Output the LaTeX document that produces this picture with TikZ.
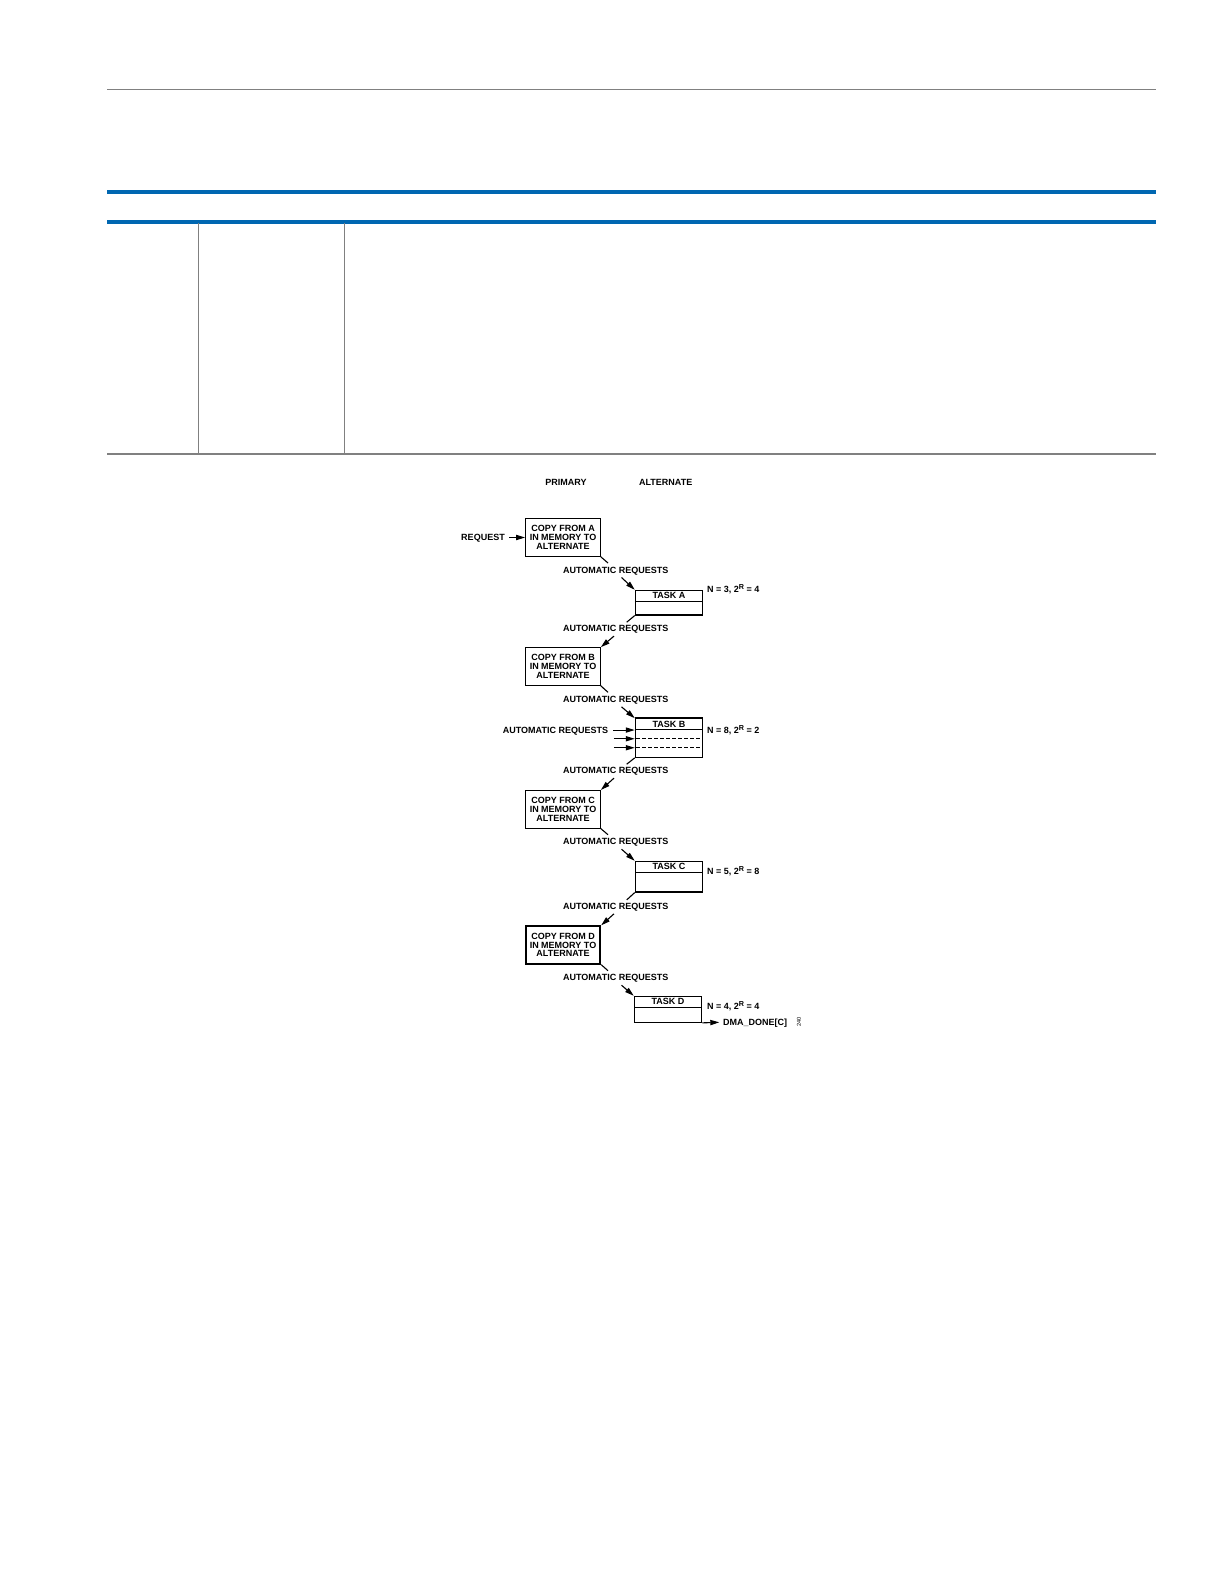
\documentclass[tikz,border=0pt]{standalone}
\usepackage{fontspec}
\setmainfont{Liberation Sans}
\usetikzlibrary{arrows.meta,calc,positioning}
\definecolor{rulegray}{RGB}{128,128,128}
\definecolor{adiblue}{RGB}{0,103,177}
\newcommand{\dfont}{\fontsize{4.5}{4.4}\selectfont\bfseries}
\newcommand{\supR}{\raisebox{1.5pt}{\fontsize{3.6}{3.6}\selectfont R}}

\begin{document}
\begin{tikzpicture}[x=0.5pt,y=-0.5pt,
  every node/.append style={inner sep=0pt},
  lbl/.style={font=\dfont, text height=3.2pt, text depth=0pt},
  copybox/.style={draw, line width=0.55pt, minimum width=37.3pt, minimum height=18.8pt, align=center, font=\dfont},
  taskbox/.style={draw, line width=0.55pt, minimum width=33.7pt},
  taskhead/.style={draw, line width=0.55pt, minimum width=33.7pt, minimum height=5.4pt, anchor=north, font=\dfont, text height=3.2pt, text depth=0pt},
  tip/.style={-{Triangle[length=4.5pt,width=2.6pt]}, line width=0.55pt},
  stub/.style={line width=0.55pt},
  slotline/.style={line width=0.55pt, dash pattern=on 2pt off 1pt}]
\useasboundingbox (0,0) rectangle (1224,1584);
% page rules
\draw [rulegray, line width=0.6pt] (107.3,89.3) -- (1156,89.3);
\draw [adiblue, line width=2pt] (107.3,192) -- (1156,192);
\draw [adiblue, line width=2pt] (107.3,222) -- (1156,222);
\draw [rulegray, line width=0.5pt] (198.3,223) -- (198.3,454);
\draw [rulegray, line width=0.5pt] (344.3,223) -- (344.3,454);
\draw [rulegray, line width=0.6pt] (107.3,454) -- (1156,454);
% column heads
\node [lbl] (prim) at (566,482) {PRIMARY};
\node [lbl] (alt) at (665.7,482) {ALTERNATE};
% primary side
\node [copybox] (boxA) at (563,537.5) {COPY FROM A\\IN MEMORY TO\\ALTERNATE};
\node [copybox] (boxB) at (563,666.5) {COPY FROM B\\IN MEMORY TO\\ALTERNATE};
\node [copybox] (boxC) at (563,809.3) {COPY FROM C\\IN MEMORY TO\\ALTERNATE};
\node [copybox, line width=0.9pt] (boxD) at (563,945) {COPY FROM D\\IN MEMORY TO\\ALTERNATE};
% alternate side
\node [taskbox, minimum height=12.35pt] (taskA) at (669,602.65) {};
\node [taskhead] (taskAh) at (taskA.north) {TASK A};
\draw [line width=0.8pt] (taskAh.south west) -- (taskAh.south east);
\node [taskbox, minimum height=19.3pt] (taskB) at (669,738) {};
\node [taskhead] (taskBh) at (taskB.north) {TASK B};
\draw [line width=0.9pt] (taskB.north west) -- (taskB.north east);
\node [taskbox, minimum height=15.35pt] (taskC) at (669,876.65) {};
\node [taskhead] (taskCh) at (taskC.north) {TASK C};
\node [taskbox, minimum height=13pt] (taskD) at (668,1009.3) {};
\node [taskhead] (taskDh) at (taskD.north) {TASK D};
% slots of task B
\coordinate (slot1) at ($(taskBh.south west)+(0,8.7)$);
\coordinate (slot2) at ($(taskBh.south west)+(0,17.7)$);
\draw [slotline] ($(slot1)+(1.5,0)$) -- ($(slot1)+(66,0)$);
\draw [slotline] ($(slot2)+(1.5,0)$) -- ($(slot2)+(66,0)$);
% parameters
\node [lbl, anchor=west] (nA) at (706.7,589.3) {N = 3, 2\supR{} = 4};
\node [lbl, anchor=west] (nB) at (706.7,730) {N = 8, 2\supR{} = 2};
\node [lbl, anchor=west] (nC) at (706.7,871.7) {N = 5, 2\supR{} = 8};
\node [lbl, anchor=west] (nD) at (706.7,1006) {N = 4, 2\supR{} = 4};
% requests
\node [lbl, left=10pt of boxA] (req) {REQUEST};
\draw [tip] ($(req.east)+(4.3,0)$) -- (boxA.west);
\node [lbl] (ar1) at (615.7,570) {AUTOMATIC REQUESTS};
\node [lbl] (ar2) at (615.7,628.3) {AUTOMATIC REQUESTS};
\node [lbl] (ar3) at (615.7,699.3) {AUTOMATIC REQUESTS};
\node [lbl, anchor=east] (ar4) at ($(taskBh.south west)+(-26.3,0)$) {AUTOMATIC REQUESTS};
\node [lbl] (ar5) at (615.7,770.3) {AUTOMATIC REQUESTS};
\node [lbl] (ar6) at (615.7,841.7) {AUTOMATIC REQUESTS};
\node [lbl] (ar7) at (615.7,906) {AUTOMATIC REQUESTS};
\node [lbl] (ar8) at (615.7,977.7) {AUTOMATIC REQUESTS};
\draw [stub] (boxA.south east) -- ($(ar1.north)+(-7.7,-3.4)$);
\draw [tip] ($(ar1.south)+(5.8,3.9)$) -- (taskA.north west);
\draw [stub] (taskA.south west) -- ($(ar2.north)+(11,-2.5)$);
\draw [tip] ($(ar2.south)+(-1.7,4.2)$) -- (boxB.north east);
\draw [stub] (boxB.south east) -- ($(ar3.north)+(-7.7,-3.4)$);
\draw [tip] ($(ar3.south)+(5.8,3.9)$) -- (taskB.north west);
\draw [tip] ($(ar4.east)+(5,0)$) -- (taskBh.south west);
\draw [tip] ($(slot1)+(-21,0)$) -- (slot1);
\draw [tip] ($(slot2)+(-21,0)$) -- (slot2);
\draw [stub] (taskB.south west) -- ($(ar5.north)+(11,-2.5)$);
\draw [tip] ($(ar5.south)+(-1.7,4.2)$) -- (boxC.north east);
\draw [stub] (boxC.south east) -- ($(ar6.north)+(-7.7,-3.4)$);
\draw [tip] ($(ar6.south)+(5.8,3.9)$) -- (taskC.north west);
\draw [stub] (taskC.south west) -- ($(ar7.north)+(11,-2.5)$);
\draw [tip] ($(ar7.south)+(-1.7,4.2)$) -- (boxD.north east);
\draw [stub] (boxD.south east) -- ($(ar8.north)+(-7.7,-3.4)$);
\draw [tip] ($(ar8.south)+(5.8,3.9)$) -- (taskD.north west);
% done output
\node [lbl, anchor=west] (done) at (722.7,1022.3) {DMA\_DONE[C]};
\draw [tip] (taskD.south east) -- ($(done.west)+(-3.4,0)$);
\node [font=\fontsize{2.8}{2.8}\selectfont, rotate=90] (fignum) at (799,1022) {240};
\end{tikzpicture}
\end{document}
